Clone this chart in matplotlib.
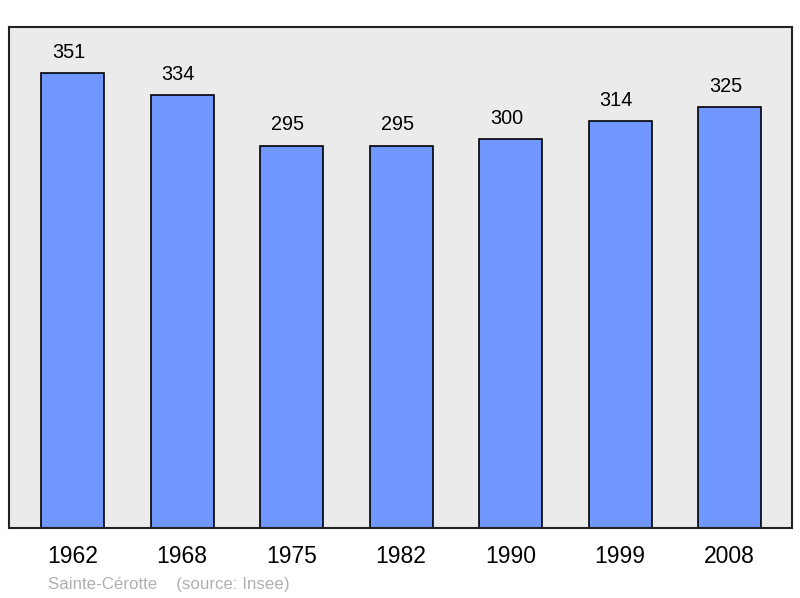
import matplotlib.pyplot as plt

plt.rcParams['font.family'] = ['Liberation Sans', 'DejaVu Sans']

anos = ["1962", "1968", "1975", "1982", "1990", "1999", "2008"]
populacao = [351, 334, 295, 295, 300, 314, 325]

fig = plt.figure(figsize=(8, 5.98), dpi=100)
ax = fig.add_axes([0.01125, 0.117, 0.97875, 0.8378])
ax.set_facecolor('#ebebeb')

x = list(range(len(anos)))
ax.bar(x, populacao, width=0.575, color='#7097ff', edgecolor='black', linewidth=1.2, zorder=2)

# valores acima das barras (levemente deslocados para a esquerda, como no original)
for xi, v in zip(x, populacao):
    ax.annotate(str(v), (xi, v), xytext=(-2.8, 15), textcoords='offset points',
                ha='center', va='center', fontsize=14.3)

ax.set_xlim(-0.58, 6.57)
ax.set_ylim(0, 386.6)
ax.set_xticks(x)
ax.set_xticklabels(anos, fontsize=16.5)
ax.tick_params(axis='x', length=0, pad=12)
ax.set_yticks([])
for s in ax.spines.values():
    s.set_linewidth(1.5)
    s.set_color('#222222')

fig.text(0.06, 0.0234, "Sainte-Cérotte    (source: Insee)", color='#b0b0b0',
         fontsize=12.2, va='center')

fig.savefig('out.png', dpi=100)
